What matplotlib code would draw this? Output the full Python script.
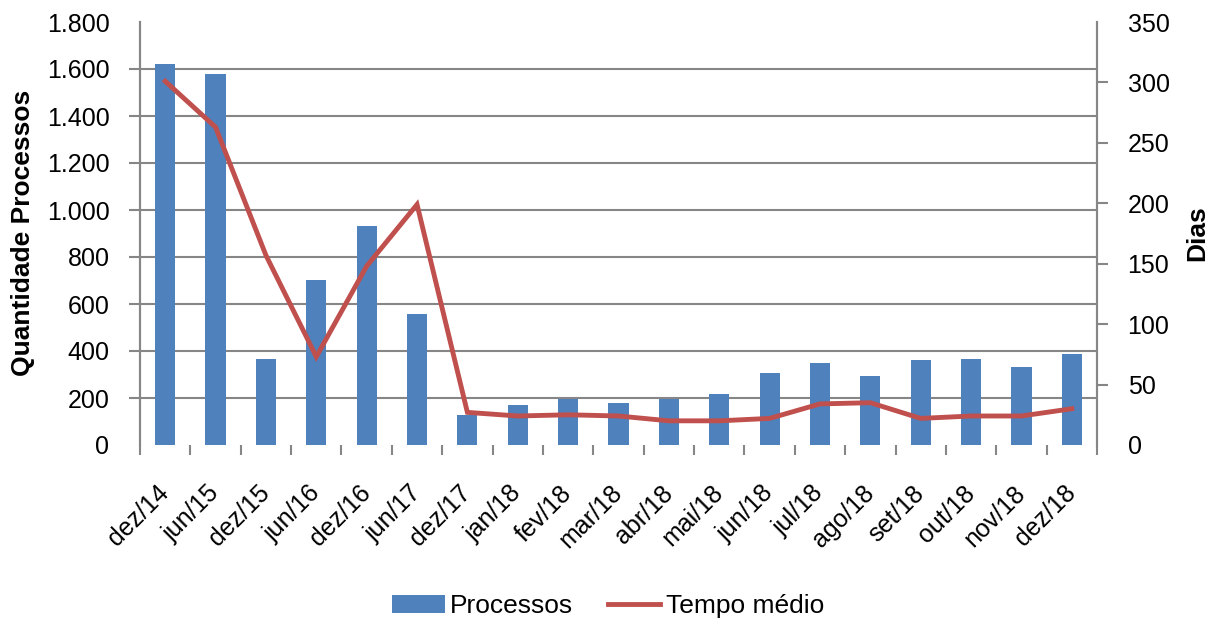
import numpy as np
import matplotlib.pyplot as plt
from matplotlib.ticker import FuncFormatter

plt.rcParams['font.family'] = ['Liberation Sans', 'DejaVu Sans']

meses = ['dez/14', 'jun/15', 'dez/15', 'jun/16', 'dez/16', 'jun/17', 'dez/17',
         'jan/18', 'fev/18', 'mar/18', 'abr/18', 'mai/18', 'jun/18', 'jul/18',
         'ago/18', 'set/18', 'out/18', 'nov/18', 'dez/18']
processos = [1621, 1579, 366, 702, 932, 557, 128, 170, 194, 179, 196, 217,
             306, 349, 294, 362, 366, 332, 387]
tempo_medio = [301, 263, 157, 73, 148, 199, 27, 24, 25, 24, 20, 20, 22, 34,
               35, 22, 24, 24, 30]

azul = '#4F81BD'
vermelho = '#C0504D'
cinza = '#868686'

fig = plt.figure(figsize=(12.16, 6.21), dpi=100)
ax = fig.add_axes([140/1216, 1 - 445/621, 957/1216, 423/621])
ax2 = ax.twinx()

x = np.arange(len(meses))
ax.bar(x, processos, width=0.4, color=azul, label='Processos', zorder=3)
ax2.plot(x, tempo_medio, color=vermelho, lw=3.5, label='Tempo médio',
         solid_joinstyle='miter')

ax.set_xlim(-0.5, len(meses) - 0.5)
ax.set_ylim(0, 1800)
ax2.set_ylim(0, 350)
ax.set_yticks(np.arange(0, 1801, 200))
ax2.set_yticks(np.arange(0, 351, 50))
ax.yaxis.set_major_formatter(FuncFormatter(lambda v, p: f'{int(v):,}'.replace(',', '.')))

# linhas de grade so entre 200 e 1600
for v in range(200, 1601, 200):
    ax.axhline(v, color=cinza, lw=1.5, zorder=1)

ax.set_xticks(x)
ax.set_xticklabels(meses, rotation=45, ha='right', va='center',
                   rotation_mode='anchor', fontsize=18)
ax.tick_params(axis='x', which='major', length=0, pad=32)
ax.set_xticks(np.arange(-0.5, len(meses), 1), minor=True)
ax.tick_params(axis='x', which='minor', length=7, width=1.5, color=cinza)

ax.tick_params(axis='y', length=8, width=1.5, color=cinza, labelsize=18, pad=14)
ax2.tick_params(axis='y', length=8, width=1.5, color=cinza, labelsize=18, pad=14)

# sem marca nas pontas dos eixos
for a in (ax, ax2):
    ticks = a.yaxis.get_major_ticks()
    for t in (ticks[0], ticks[-1]):
        t.tick1line.set_visible(False)
        t.tick2line.set_visible(False)

for a in (ax, ax2):
    for s in ('top', 'bottom'):
        a.spines[s].set_visible(False)
    for s in ('left', 'right'):
        a.spines[s].set_color(cinza)
        a.spines[s].set_linewidth(1.5)

fig.text(23/1216, 1 - 233/621, 'Quantidade Processos', rotation=90,
         ha='center', va='center', fontsize=19, fontweight='bold')
fig.text(1197/1216, 1 - 233/621, 'Dias', rotation=90,
         ha='center', va='center', fontsize=19, fontweight='bold')

h1, l1 = ax.get_legend_handles_labels()
h2, l2 = ax2.get_legend_handles_labels()
fig.legend(h1 + h2, l1 + l2, loc='center', bbox_to_anchor=(0.5, 1 - 606/621),
           ncol=2, frameon=False, fontsize=19, handlelength=2.0,
           columnspacing=1.3, handletextpad=0.2)

fig.savefig('out.png', dpi=100)
